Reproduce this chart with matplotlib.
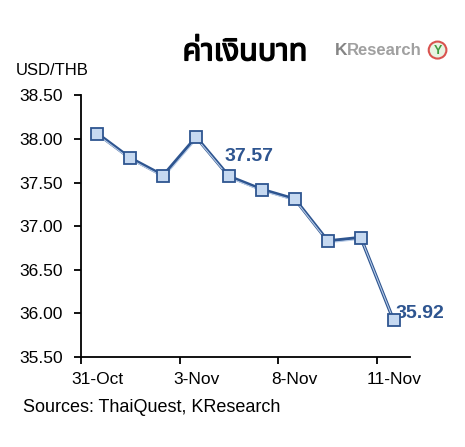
import matplotlib
matplotlib.use("Agg")
import matplotlib.pyplot as plt
import matplotlib.transforms as mtransforms
import matplotlib.patheffects as pe
from matplotlib.patches import Circle

plt.rcParams['font.family'] = ['Liberation Sans', 'DejaVu Sans']

# data
dates = ['31-Oct', '1-Nov', '2-Nov', '3-Nov', '4-Nov', '7-Nov', '8-Nov', '9-Nov', '10-Nov', '11-Nov']
rate = [38.06, 37.78, 37.58, 38.02, 37.57, 37.42, 37.31, 36.83, 36.87, 35.92]
shown_labels = {4: '37.57', 9: '35.92'}
tick_every = 3

dark = '#2E5590'
light = '#B8CCE8'
fill = '#C6D9F1'

fig = plt.figure(figsize=(4.65, 4.47), dpi=100)
ax = fig.add_axes([0.174, 0.201, 0.708, 0.586])

x = list(range(len(rate)))
ax.plot(x, rate, color=dark, lw=2.4, zorder=2)
off = mtransforms.offset_copy(ax.transData, fig=fig, x=0.5, y=-1.2, units='points')
ax.plot(x, rate, color=light, lw=0.8, zorder=3, transform=off)
ax.plot(x, rate, ls='none', marker='s', ms=9, mfc=fill, mec=dark, mew=1.3, zorder=4)

for i, txt in shown_labels.items():
    if i == len(rate) - 1:
        ax.annotate(txt, (x[i], rate[i]), xytext=(1, 5), textcoords='offset points',
                    ha='left', va='center', fontsize=14, fontweight='bold', color=dark)
    else:
        ax.annotate(txt, (x[i], rate[i]), xytext=(-3, 14), textcoords='offset points',
                    ha='left', va='center', fontsize=14, fontweight='bold', color=dark)

ax.set_xlim(-0.5, len(rate) - 0.5)
ax.set_ylim(35.5, 38.5)
ax.set_yticks([35.5, 36.0, 36.5, 37.0, 37.5, 38.0, 38.5])
ax.set_yticklabels(['%.2f' % v for v in ax.get_yticks()], fontsize=12.5)

# category axis: ticks between categories, labels centred on every third one
ax.set_xticks([i - 0.5 for i in range(0, len(rate), tick_every)])
ax.set_xticklabels([])
ax.set_xticks(list(range(0, len(rate), tick_every)), minor=True)
ax.set_xticklabels([dates[i] for i in range(0, len(rate), tick_every)], minor=True, fontsize=12.5)
ax.tick_params(axis='x', which='minor', length=0, pad=11)
ax.tick_params(axis='both', which='major', direction='out', length=5, width=1.3, color='black')
ax.tick_params(axis='y', pad=8)

for s in ['top', 'right']:
    ax.spines[s].set_visible(False)
for s in ['left', 'bottom']:
    ax.spines[s].set_linewidth(1.3)

title = fig.text(0.527, 0.883, 'ค่าเงินบาท', fontsize=22, fontweight='bold', ha='center', va='center',
                 family=['Noto Sans Thai', 'Loma', 'Garuda', 'Tlwg Typo', 'Noto Sans', 'DejaVu Sans'])
title.set_path_effects([pe.withStroke(linewidth=1.1, foreground='black')])

fig.text(0.720, 0.887, 'K', fontsize=12.5, fontweight='bold', color='#858585', ha='left', va='center')
fig.text(0.745, 0.887, 'Research', fontsize=12, fontweight='bold', color='#A0A0A0', ha='left', va='center')
fig.patches.append(Circle((0.941, 0.888), 0.019, transform=fig.transFigure,
                          fc='#E8F3E2', ec='#D9534F', lw=1.5))
fig.text(0.941, 0.886, 'Y', fontsize=9, fontweight='bold', color='#3E9A3E', ha='center', va='center')

fig.text(0.034, 0.843, 'USD/THB', fontsize=12, ha='left', va='center')
fig.text(0.049, 0.089, 'Sources: ThaiQuest, KResearch', fontsize=13, ha='left', va='center')

fig.savefig('out.png', dpi=100)
